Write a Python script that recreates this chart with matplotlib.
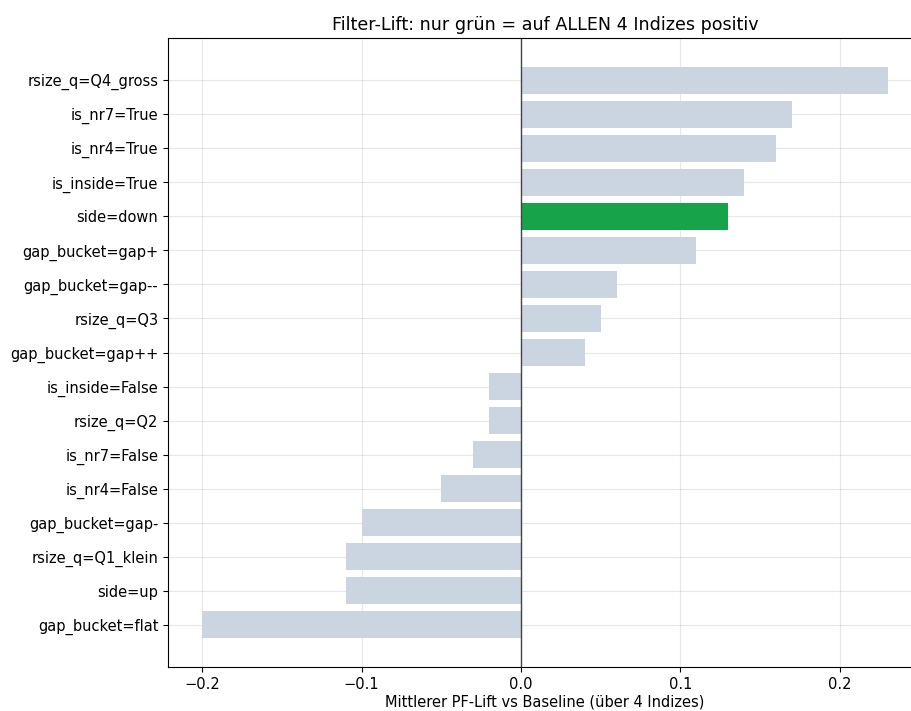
import numpy as np
import matplotlib.pyplot as plt

# Filter labels (top to bottom) and mean PF lift vs baseline
labels = ["rsize_q=Q4_gross", "is_nr7=True", "is_nr4=True", "is_inside=True",
          "side=down", "gap_bucket=gap+", "gap_bucket=gap--", "rsize_q=Q3",
          "gap_bucket=gap++", "is_inside=False", "rsize_q=Q2", "is_nr7=False",
          "is_nr4=False", "gap_bucket=gap-", "rsize_q=Q1_klein", "side=up",
          "gap_bucket=flat"]
lift = [0.23, 0.17, 0.16, 0.14, 0.13, 0.11, 0.06, 0.05, 0.04,
        -0.02, -0.02, -0.03, -0.05, -0.10, -0.11, -0.11, -0.20]
# positive on all 4 indices
all_positive = ["side=down"]

colors = ["#16a34a" if l in all_positive else "#cbd5e1" for l in labels]

plt.rcParams["font.size"] = 10.5

fig = plt.figure(figsize=(9.12, 7.11), dpi=100)
ax = fig.add_axes([168 / 912, 1 - 667 / 711, (922 - 168) / 912, (667 - 38) / 711])

y = np.arange(len(labels))
ax.barh(y, lift, color=colors, height=0.8)
ax.set_yticks(y)
ax.set_yticklabels(labels)
ax.invert_yaxis()
ax.axvline(0, color="#444444", linewidth=1)
ax.grid(True, alpha=0.3)
ax.set_axisbelow(True)
ax.spines["right"].set_visible(False)
ax.set_xlabel("Mittlerer PF-Lift vs Baseline (über 4 Indizes)", labelpad=2)
ax.set_title("Filter-Lift: nur grün = auf ALLEN 4 Indizes positiv", fontsize=12.6)

fig.savefig("out.png", dpi=100)
